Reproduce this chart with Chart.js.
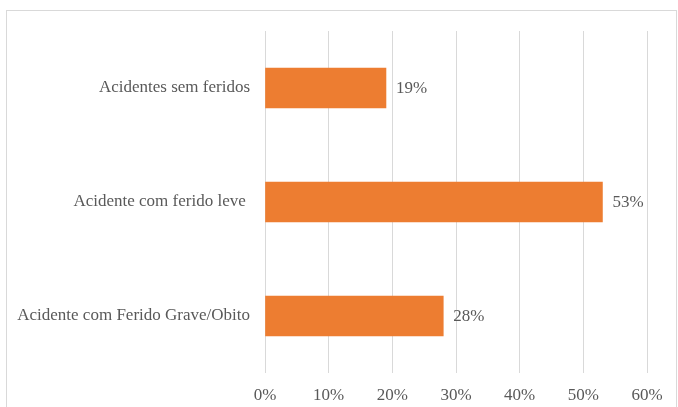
<!DOCTYPE html>
<html>
<head>
<meta charset="utf-8">
<script src="https://cdn.jsdelivr.net/npm/chart.js@4"></script>
<style>
  body { margin: 0; background: #fff; }
  #moldura { position: relative; width: 678px; height: 407px; }
  #borda { position: absolute; left: 6px; top: 10px; width: 671px; height: 400px; border: 1px solid #d9d9d9; box-sizing: border-box; }
  canvas { position: absolute; left: 0; top: 0; }
</style>
</head>
<body>
<div id="moldura">
  <div id="borda"></div>
  <canvas id="grafico" width="678" height="407"></canvas>
</div>
<script>
var categorias = ['Acidentes sem feridos', 'Acidente com ferido leve ', 'Acidente com Ferido Grave/Obito'];
var percentuais = [19, 53, 28];
var rotulosX = [0, 10, 20, 30, 40, 50, 60];

var corTexto = '#595959';
var fonte = { family: '"Liberation Serif", "Times New Roman", serif', size: 17 };

// desenha o valor ao lado de cada barra
const rotulosBarra = {
    id: 'rotulosBarra',
    afterDatasetsDraw(chart) {
        const ctx = chart.ctx;
        const meta = chart.getDatasetMeta(0);
        ctx.save();
        ctx.font = fonte.size + 'px ' + fonte.family;
        ctx.fillStyle = corTexto;
        ctx.textAlign = 'left';
        ctx.textBaseline = 'middle';
        meta.data.forEach(function (barra, i) {
            ctx.fillText(percentuais[i] + '%', barra.x + 10, barra.y + 1);
        });
        ctx.restore();
    }
};

const data = {
    labels: categorias,
    datasets: [{
        data: percentuais,
        backgroundColor: '#ED7D31',
        borderWidth: 0,
        barThickness: 40
    }]
};

const config = {
    type: 'bar',
    data: data,
    options: {
        indexAxis: 'y',
        responsive: false,
        animation: false,
        layout: { padding: { left: 0, right: 31, top: 31, bottom: 0 } },
        plugins: {
            legend: { display: false },
            tooltip: { enabled: false }
        },
        scales: {
            x: {
                min: rotulosX[0],
                max: rotulosX[rotulosX.length - 1],
                afterBuildTicks: function (escala) {
                    escala.ticks = rotulosX.map(function (v) { return { value: v }; });
                },
                afterFit: function (escala) { escala.height = 34; },
                grid: { color: '#d9d9d9', drawTicks: false },
                border: { display: false },
                ticks: {
                    color: corTexto,
                    font: fonte,
                    padding: 12,
                    callback: function (v) { return v + '%'; }
                }
            },
            y: {
                afterFit: function (escala) { escala.width = 265; },
                grid: { display: false, drawTicks: false },
                border: { display: false },
                ticks: { color: corTexto, font: fonte, padding: 15 }
            }
        }
    },
    plugins: [rotulosBarra]
};

new Chart(document.getElementById('grafico'), config);
</script>
</body>
</html>
